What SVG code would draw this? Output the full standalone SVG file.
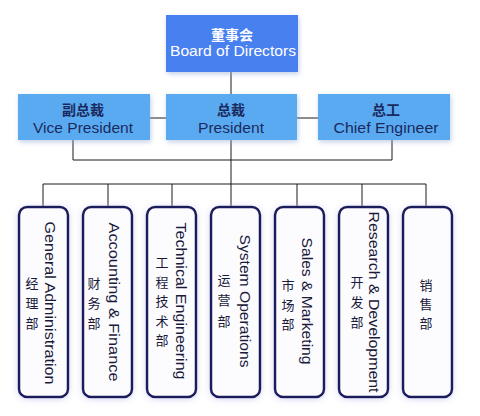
<svg xmlns="http://www.w3.org/2000/svg" width="480" height="416" viewBox="0 0 480 416">
<defs>
<filter id="sh1" x="-20%" y="-30%" width="140%" height="160%">
<feGaussianBlur in="SourceAlpha" stdDeviation="2.5"/>
<feOffset dx="1" dy="2" result="b"/>
<feFlood flood-color="#8fa8d8" flood-opacity="0.55"/>
<feComposite in2="b" operator="in"/>
<feMerge><feMergeNode/><feMergeNode in="SourceGraphic"/></feMerge>
</filter>
<filter id="sh2" x="-30%" y="-10%" width="160%" height="120%">
<feGaussianBlur in="SourceAlpha" stdDeviation="3"/>
<feOffset dx="0" dy="1" result="b"/>
<feFlood flood-color="#b8b8f0" flood-opacity="0.6"/>
<feComposite in2="b" operator="in"/>
<feMerge><feMergeNode/><feMergeNode in="SourceGraphic"/></feMerge>
</filter>
</defs>
<style>
.top{fill:#4a80f0;}
.mid{fill:#5aaaf2;}
.dept{fill:#fcfcff;stroke:#1e1a5c;stroke-width:2.5;}
.wt{fill:#ffffff;font-family:"Liberation Sans","Noto Sans CJK SC",sans-serif;text-anchor:middle;}
.nt{fill:#1b2a5e;font-family:"Liberation Sans","Noto Sans CJK SC",sans-serif;text-anchor:middle;}
.en{font-size:14px;}
.zh{font-size:14px;font-family:"Noto Sans CJK SC",sans-serif;font-weight:bold;}
.ve{fill:#1a1a3a;font-family:"Liberation Sans",sans-serif;font-size:14px;text-anchor:middle;}
.vz{fill:#1a1a3a;font-family:"Noto Sans CJK SC",sans-serif;font-size:13px;text-anchor:middle;}
.ln{stroke:#1a1a1a;stroke-width:1;fill:none;}
</style>
<rect width="480" height="416" fill="#ffffff"/>
<g id="connectors" class="ln">
<path d="M231 72V94"/>
<path d="M150 118H166"/>
<path d="M297 118H318"/>
<path d="M73 140V160"/>
<path d="M392 140V160"/>
<path d="M73 160H392"/>
<path d="M231 140V207"/>
<path d="M43 184H426"/>
<path d="M43 184V207M108 184V207M172 184V207M297 184V207M362 184V207M426 184V207"/>
</g>
<g id="board">
<rect class="top" x="166" y="15" width="132" height="57" filter="url(#sh1)"/>
<text class="wt zh" x="232" y="40">董事会</text>
<text class="wt en" x="233" y="56" textLength="126" lengthAdjust="spacingAndGlyphs">Board of Directors</text>
</g>
<g id="vp">
<rect class="mid" x="18" y="94" width="132" height="46" filter="url(#sh1)"/>
<text class="nt zh" x="83" y="115">副总裁</text>
<text class="nt en" x="83" y="133" textLength="100" lengthAdjust="spacingAndGlyphs">Vice President</text>
</g>
<g id="president">
<rect class="mid" x="166" y="94" width="131" height="46" filter="url(#sh1)"/>
<text class="nt zh" x="231" y="115">总裁</text>
<text class="nt en" x="231" y="133" textLength="66" lengthAdjust="spacingAndGlyphs">President</text>
</g>
<g id="ce">
<rect class="mid" x="318" y="94" width="132" height="46" filter="url(#sh1)"/>
<text class="nt zh" x="386" y="115">总工</text>
<text class="nt en" x="386" y="133" textLength="105" lengthAdjust="spacingAndGlyphs">Chief Engineer</text>
</g>
<g id="dept1">
<rect class="dept" x="19" y="207" width="49" height="190" rx="8" filter="url(#sh2)"/>
<text class="ve" transform="translate(45,303) rotate(90)" textLength="163" lengthAdjust="spacingAndGlyphs">General Administration</text>
<text class="vz" x="32" y="288">经</text><text class="vz" x="32" y="308">理</text><text class="vz" x="32" y="328">部</text>
</g>
<g id="dept2">
<rect class="dept" x="83" y="207" width="49" height="190" rx="8" filter="url(#sh2)"/>
<text class="ve" transform="translate(109,302) rotate(90)" textLength="159" lengthAdjust="spacingAndGlyphs">Accounting &amp; Finance</text>
<text class="vz" x="94" y="288">财</text><text class="vz" x="94" y="308">务</text><text class="vz" x="94" y="328">部</text>
</g>
<g id="dept3">
<rect class="dept" x="147" y="207" width="49" height="190" rx="8" filter="url(#sh2)"/>
<text class="ve" transform="translate(176,301) rotate(90)" textLength="157" lengthAdjust="spacingAndGlyphs">Technical Engineering</text>
<text class="vz" x="162" y="267">工</text><text class="vz" x="162" y="287">程</text><text class="vz" x="162" y="306">技</text><text class="vz" x="162" y="326">术</text><text class="vz" x="162" y="345">部</text>
</g>
<g id="dept4">
<rect class="dept" x="211" y="207" width="49" height="190" rx="8" filter="url(#sh2)"/>
<text class="ve" transform="translate(240,301) rotate(90)" textLength="133" lengthAdjust="spacingAndGlyphs">System Operations</text>
<text class="vz" x="224" y="285">运</text><text class="vz" x="224" y="305">营</text><text class="vz" x="224" y="326">部</text>
</g>
<g id="dept5">
<rect class="dept" x="275" y="207" width="49" height="190" rx="8" filter="url(#sh2)"/>
<text class="ve" transform="translate(302,301) rotate(90)" textLength="127" lengthAdjust="spacingAndGlyphs">Sales &amp; Marketing</text>
<text class="vz" x="288" y="290">市</text><text class="vz" x="288" y="310">场</text><text class="vz" x="288" y="329">部</text>
</g>
<g id="dept6">
<rect class="dept" x="339" y="207" width="49" height="190" rx="8" filter="url(#sh2)"/>
<text class="ve" transform="translate(369,302) rotate(90)" textLength="181" lengthAdjust="spacingAndGlyphs">Research &amp; Development</text>
<text class="vz" x="357" y="287">开</text><text class="vz" x="357" y="307">发</text><text class="vz" x="357" y="327">部</text>
</g>
<g id="dept7">
<rect class="dept" x="403" y="207" width="49" height="190" rx="8" filter="url(#sh2)"/>
<text class="vz" x="426" y="290">销</text><text class="vz" x="426" y="309">售</text><text class="vz" x="426" y="328">部</text>
</g>
</svg>
